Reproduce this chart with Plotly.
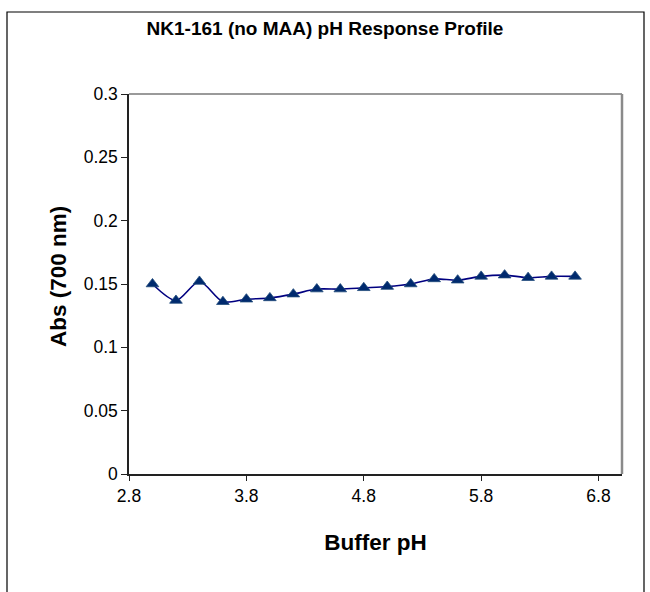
import plotly.graph_objects as go

buffer_ph = [3.0, 3.2, 3.4, 3.6, 3.8, 4.0, 4.2, 4.4, 4.6, 4.8, 5.0, 5.2, 5.4, 5.6, 5.8, 6.0, 6.2, 6.4, 6.6]
abs_700 = [0.150, 0.137, 0.152, 0.136, 0.138, 0.139, 0.142, 0.146, 0.146, 0.147, 0.148, 0.150, 0.154,
           0.153, 0.156, 0.157, 0.155, 0.156, 0.156]
x_ticks = [2.8, 3.8, 4.8, 5.8, 6.8]
y_ticks = [0, 0.05, 0.1, 0.15, 0.2, 0.25, 0.3]

W, H = 650, 592
L, R, T, B = 129, 622, 94, 474

fig = go.Figure()
fig.add_trace(go.Scatter(
    x=buffer_ph, y=abs_700, mode="lines+markers",
    line=dict(color="#000080", width=1.6, shape="spline", smoothing=0.8),
    marker=dict(symbol="triangle-up", size=11, color="#002a6e",
                line=dict(color="#1f4a7a", width=0.8)),
    showlegend=False,
))

font_family = "Liberation Sans, Arial, sans-serif"
pw, ph = R - L, B - T

fig.update_layout(
    width=W, height=H,
    margin=dict(l=L, r=W - R, t=T, b=H - B),
    paper_bgcolor="white", plot_bgcolor="white",
    font=dict(family=font_family, color="black", size=17),
    title=dict(text="<b>NK1-161 (no MAA) pH Response Profile</b>",
               x=(147 + 503) / 2 / W, xanchor="center",
               y=1 - 28 / H, yanchor="middle",
               font=dict(size=19, family=font_family, color="black")),
    xaxis=dict(range=[2.8, 7.0], tickvals=x_ticks, ticktext=[f"{v:.1f}" for v in x_ticks],
               showgrid=False, zeroline=False, showline=True, linecolor="#222",
               linewidth=1.5, ticks="outside", ticklen=5, tickcolor="#222",
               tickfont=dict(size=17.5),
               title=dict(text="<b>Buffer pH</b>", font=dict(size=22.5), standoff=29)),
    yaxis=dict(range=[0, 0.3], tickvals=y_ticks, ticktext=["0", "0.05", "0.1", "0.15", "0.2", "0.25", "0.3"],
               showgrid=False, zeroline=False, showline=True, linecolor="#222",
               linewidth=1.5, ticks="outside", ticklen=6, tickcolor="#222",
               tickfont=dict(size=17.5)),
    annotations=[dict(text="<b>Abs (700 nm)</b>", textangle=-90, showarrow=False,
                      xref="paper", yref="paper",
                      x=(58 - L) / pw, y=(B - 277) / ph,
                      xanchor="center", yanchor="middle",
                      font=dict(size=22.5, family=font_family, color="black"))],
)

# gray plot-area border (top & right)
fig.add_shape(type="line", xref="paper", yref="paper", x0=0, x1=1, y0=1, y1=1,
              line=dict(color="#9a9a9a", width=2), layer="below")
fig.add_shape(type="line", xref="paper", yref="paper", x0=1, x1=1, y0=0, y1=1,
              line=dict(color="#8a8a8a", width=2.5), layer="below")
# outer chart border
fig.add_shape(type="rect", xref="paper", yref="paper",
              x0=(7 - L) / pw, x1=(644 - L) / pw,
              y0=(B - 640) / ph, y1=(B - 12) / ph,
              line=dict(color="black", width=1.2), fillcolor="rgba(0,0,0,0)", layer="below")

fig.write_html("out.html")
